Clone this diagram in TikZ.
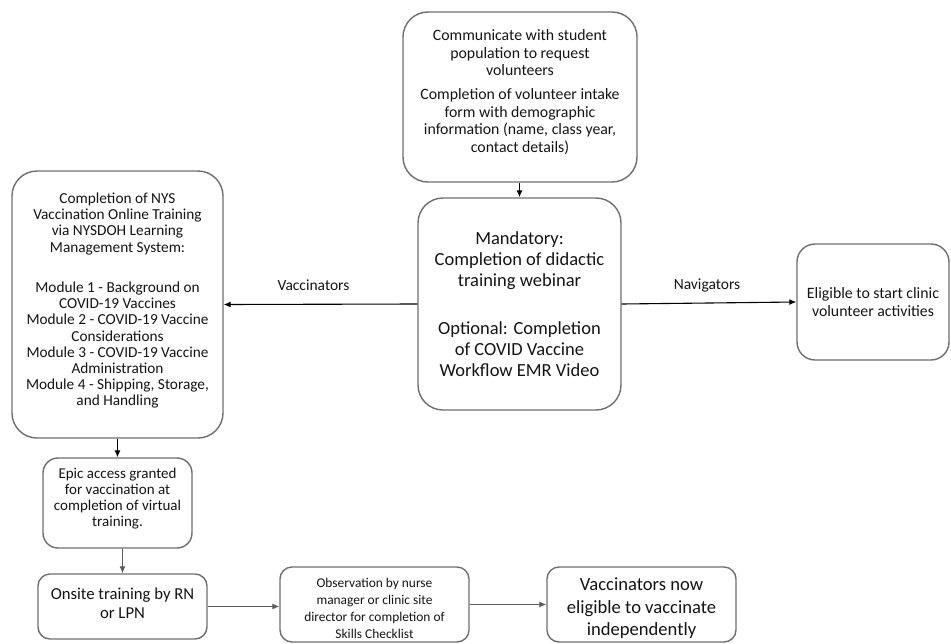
\documentclass[tikz,border=0pt]{standalone}
\usepackage{fontspec}
\setmainfont{Carlito}
\usetikzlibrary{arrows.meta}
\definecolor{boxgray}{HTML}{6E6E6E}
\definecolor{txt}{HTML}{141414}
\definecolor{arrgray}{HTML}{5A5A5A}
\begin{document}
\begin{tikzpicture}[x=1pt,y=-1pt,
  box/.style={draw=boxgray, line width=1.4pt, align=center, inner sep=0pt, text=txt},
  btext/.style={align=center, inner sep=0pt, text=txt},
  lbl/.style={text=txt, font=\fontsize{15.5}{18}\selectfont},
  arr/.style={line width=1.1pt, -{Latex[length=7pt,width=6pt]}},
  garr/.style={arr, draw=arrgray, line width=1pt}]
\useasboundingbox (0,0) rectangle (951,643);
\node[box, rounded corners=25pt, minimum width=234pt, minimum height=170pt, font=\fontsize{15.8}{17.5}\selectfont] (top) at (520,97)
 {Communicate with student\\population to request\\volunteers\\[6.5pt]Completion of volunteer intake\\form with demographic\\information (name, class year,\\contact details)\\[-5.5pt]\mbox{}};
\node[box, rounded corners=25pt, minimum width=203pt, minimum height=212pt, font=\fontsize{18.5}{21}\selectfont] (mid) at (519.5,304)
 {Mandatory:\\Completion of didactic\\training webinar\\[27pt]Optional: Completion\\of COVID Vaccine\\Workflow EMR Video};
\node[box, rounded corners=25pt, minimum width=211pt, minimum height=267pt, font=\fontsize{15.3}{16.2}\selectfont] (left) at (117.5,304.5)
 {Completion of NYS\\Vaccination Online Training\\via NYSDOH Learning\\Management System:\\[24.2pt]Module 1 - Background on\\COVID-19 Vaccines\\Module 2 - COVID-19 Vaccine\\Considerations\\Module 3 - COVID-19 Vaccine\\Administration\\Module 4 - Shipping, Storage,\\and Handling\\[-6pt]\mbox{}};
\node[box, rounded corners=18pt, minimum width=152pt, minimum height=116pt, font=\fontsize{15.8}{18}\selectfont] (right) at (873,302)
 {Eligible to start clinic\\volunteer activities};
\node[box, rounded corners=15pt, minimum width=149pt, minimum height=90pt, font=\fontsize{15}{16}\selectfont] (epic) at (117.5,503)
 {Epic access granted\\for vaccination at\\completion of virtual\\training.\\[-4pt]\mbox{}};
\node[box, rounded corners=12pt, minimum width=169pt, minimum height=65pt, font=\fontsize{16.7}{19.3}\selectfont] (onsite) at (122.5,606.5)
 {Onsite training by RN\\or LPN\\[-13.3pt]\mbox{}};
\node[box, rounded corners=12pt, minimum width=189pt, minimum height=75pt] (obs) at (374.5,604.5) {};
\node[btext, font=\fontsize{13.4}{17}\selectfont] (obst) at ([yshift=-4pt]obs.center)
 {Observation by nurse\\manager or clinic site\\director for completion of\\Skills Checklist};
\node[box, rounded corners=12pt, minimum width=189pt, minimum height=75pt] (now) at (641.5,604.5) {};
\node[btext, font=\fontsize{18.6}{22.5}\selectfont] (nowt) at ([yshift=-4pt]now.center)
 {Vaccinators now\\eligible to vaccinate\\independently};
\node[lbl] (lv) at (313.5,285) {Vaccinators};
\node[lbl] (ln) at (707,285) {Navigators};
\draw[arr] (top.south -| mid.north) -- (mid.north);
\draw[arr] (mid.west) -- (left.east);
\draw[arr] (mid.east) -- (right.west);
\draw[arr] (left.south) -- (epic.north);
\draw[garr] (onsite.north |- epic.south) -- (onsite.north);
\draw[garr] (onsite.east) -- (obs.west |- onsite.east);
\draw[garr] (obs.east) -- (now.west);
\end{tikzpicture}
\end{document}
